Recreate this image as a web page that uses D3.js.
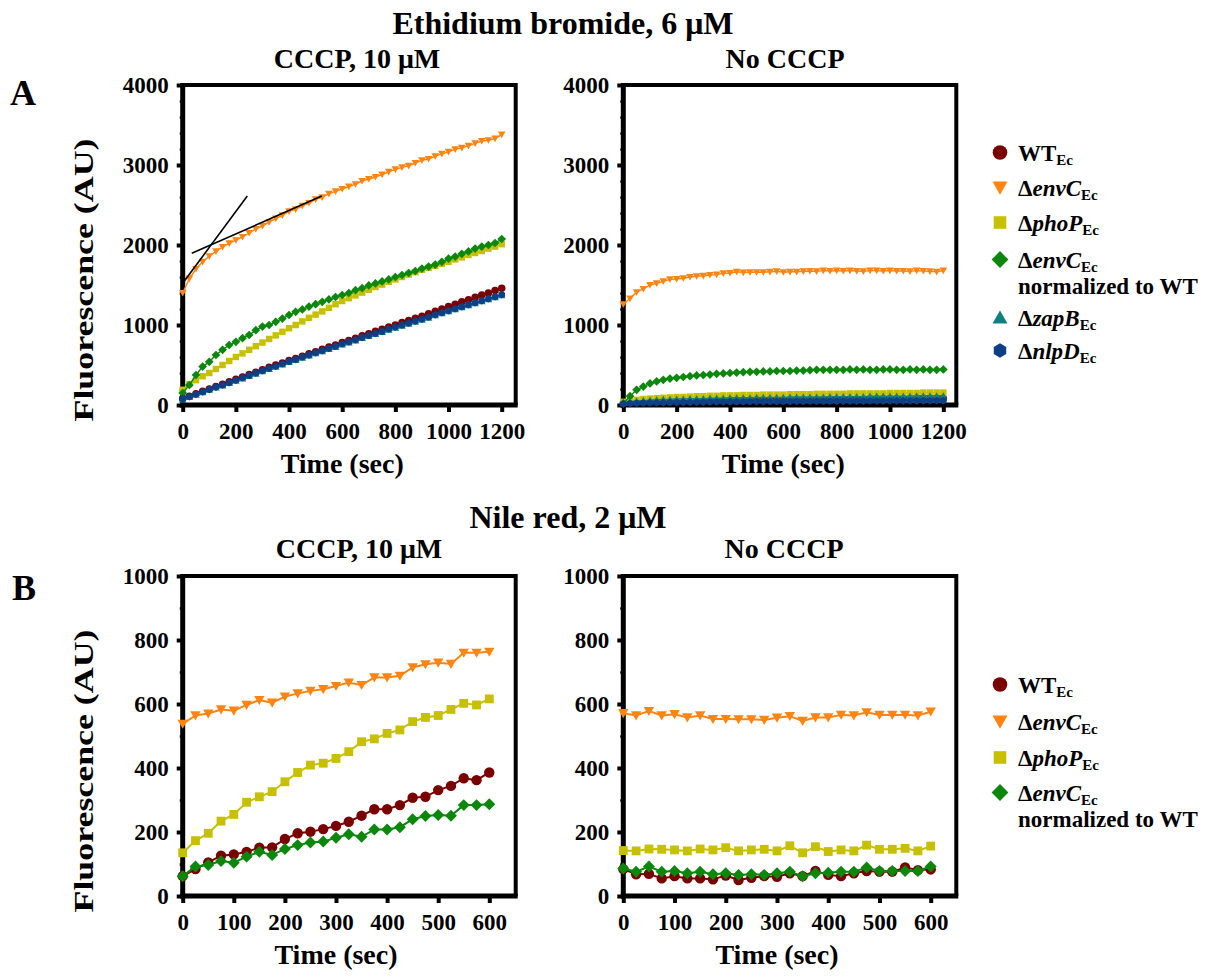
<!DOCTYPE html>
<html>
<head>
<meta charset="utf-8">
<script src="https://cdn.jsdelivr.net/npm/d3@7"></script>
<style>
body { margin: 0; background: #fff; }
svg text { font-family: "Liberation Serif", "Tinos", "Times New Roman", "DejaVu Serif", serif !important; font-weight: bold; fill: #000; }
</style>
</head>
<body>
<svg id="fig" width="1208" height="977"></svg>
<script>
// ---- data ----
let timeA = [0,25,50,75,100,125,150,175,200,225,250,275,300,325,350,375,400,425,450,475,500,525,550,575,600,
  625,650,675,700,725,750,775,800,825,850,875,900,925,950,975,1000,1025,1050,1075,1100,1125,1150,1175,1200]
let timeB = [0,25,50,75,100,125,150,175,200,225,250,275,300,325,350,375,400,425,450,475,500,525,550,575,600]

// Ethidium bromide, CCCP
let ebCcccpWT = [80,110,140,170,200,230,260,290,320,350,
  380,410,440,470,500,525,555,580,610,640,
  665,695,725,750,780,805,835,865,890,920,
  945,975,1000,1030,1055,1085,1110,1140,1170,1200,
  1230,1260,1290,1315,1345,1375,1400,1430,1460]
let ebCcccpEnvC = [1400,1580,1700,1790,1860,1920,1975,2020,2060,2100,
  2150,2200,2240,2285,2330,2370,2420,2445,2490,2525,
  2570,2595,2640,2670,2700,2730,2760,2800,2825,2850,
  2880,2915,2945,2970,2990,3025,3060,3075,3110,3140,
  3165,3195,3215,3240,3270,3300,3310,3330,3380]
let ebCcccpPhoP = [190,260,310,360,400,450,500,550,600,645,
  690,735,780,825,870,915,960,1000,1045,1090,
  1130,1170,1215,1260,1300,1335,1370,1405,1440,1475,
  1505,1540,1570,1600,1630,1660,1690,1715,1740,1765,
  1790,1820,1845,1875,1900,1925,1955,1980,2010]
let ebCcccpNorm = [150,250,375,480,540,625,690,750,790,835,
  875,935,980,1000,1040,1080,1125,1165,1195,1230,
  1260,1290,1320,1350,1375,1400,1435,1460,1495,1520,
  1545,1570,1600,1625,1650,1675,1705,1730,1755,1790,
  1830,1855,1890,1920,1955,1980,2000,2025,2075]
let ebCcccpZapB = [70,100,130,160,190,218,245,275,305,333,
  362,392,422,450,478,508,537,562,592,618,
  647,672,702,727,757,782,808,837,862,887,
  912,942,967,992,1017,1042,1067,1092,1122,1147,
  1172,1197,1222,1247,1272,1297,1322,1347,1372]
let ebCcccpNlpD = [80,105,135,165,195,225,250,280,310,340,
  370,400,430,460,485,515,545,570,600,625,
  655,680,710,735,765,790,815,845,870,895,
  920,950,975,1000,1025,1050,1075,1100,1130,1155,
  1180,1205,1230,1255,1280,1305,1330,1355,1380]
// black tangent lines drawn on the CCCP panel
let tangentEarly = [[0,1521],[243,2612]]
let tangentLate = [[34,1896],[523,2612]]

// Ethidium bromide, no CCCP
let ebNoWT = [20,30,35,40,42,45,48,50,52,54,
  55,57,58,60,60,62,62,63,64,65,
  65,66,67,68,68,69,70,70,70,71,
  72,72,73,73,74,74,75,75,75,76,
  76,77,77,78,78,78,79,79,80]
let ebNoEnvC = [1260,1330,1410,1450,1500,1520,1545,1570,1575,1585,
  1600,1610,1615,1625,1630,1645,1650,1665,1655,1660,
  1660,1660,1665,1670,1660,1665,1665,1670,1675,1670,
  1680,1675,1680,1675,1680,1675,1670,1680,1680,1675,
  1680,1675,1675,1670,1680,1675,1670,1665,1680]
let ebNoPhoP = [40,55,65,75,80,85,90,95,100,100,
  105,110,110,115,115,120,120,120,125,125,
  125,130,130,130,130,135,135,135,135,140,
  140,140,140,140,145,145,145,145,145,145,
  150,150,150,150,150,155,155,155,155]
let ebNoNorm = [20,110,190,230,270,295,315,330,340,350,
  360,370,375,380,390,395,400,405,410,415,
  415,420,420,425,425,425,430,430,435,440,
  440,440,440,440,445,440,445,440,440,445,
  445,440,440,445,440,445,440,440,445]
let ebNoZapB = [30,40,50,55,60,65,70,70,75,75,
  80,80,80,85,85,85,90,90,90,90,
  95,95,95,95,95,100,100,100,100,100,
  100,105,105,105,105,105,105,110,110,110,
  110,110,110,110,115,115,115,115,115]
let ebNoNlpD = [15,20,22,25,27,28,30,31,32,33,
  34,35,36,37,38,38,39,40,40,41,
  42,42,43,43,44,44,45,45,46,46,
  47,47,48,48,48,49,49,50,50,50,
  51,51,52,52,52,53,53,54,54]

// Nile red, CCCP
let nrCcccpWT = [62,84,105,126,130,138,151,152,178,196,201,209,219,232,251,271,271,284,307,310,331,344,368,362,386]
let nrCcccpEnvC = [538,564,570,583,579,597,612,604,623,633,641,646,656,667,659,683,683,688,714,724,729,725,760,760,763]
let nrCcccpPhoP = [135,173,196,234,255,293,310,326,357,386,409,415,430,451,482,491,508,519,545,558,564,583,602,597,616]
let nrCcccpNorm = [62,92,97,109,104,123,138,128,147,159,167,170,182,193,185,208,208,215,240,250,253,251,284,284,287]

// Nile red, no CCCP
let nrNoWT = [84,68,69,55,62,55,55,52,64,50,57,62,60,71,62,78,66,62,71,78,76,76,89,81,83]
let nrNoEnvC = [571,564,578,564,568,558,564,553,553,552,552,550,557,562,547,558,558,566,564,574,566,566,566,564,576]
let nrNoPhoP = [142,141,147,146,144,141,147,144,151,141,144,146,141,157,135,154,139,144,141,159,146,146,149,141,156]
let nrNoNorm = [86,76,92,76,78,71,76,68,71,66,68,66,71,76,62,71,73,76,76,89,78,78,78,78,92]

let ticksA = [0,1000,2000,3000,4000]
let minorA = [200,400,600,800,1200,1400,1600,1800,2200,2400,2600,2800,3200,3400,3600,3800]
let ticksB = [0,200,400,600,800,1000]
let minorB = [100,300,500,700,900]
let timeTicksA = [0,200,400,600,800,1000,1200]
let timeTicksB = [0,100,200,300,400,500,600]

let strains = [
  {key: 'WT', gene: '', mark: 'circle', color: '#7a0000'},
  {key: 'envC', gene: 'envC', mark: 'down', color: '#ff8412'},
  {key: 'phoP', gene: 'phoP', mark: 'square', color: '#c6c000'},
  {key: 'norm', gene: 'envC', mark: 'diamond', color: '#0b870b'},
  {key: 'zapB', gene: 'zapB', mark: 'up', color: '#0f7f80'},
  {key: 'nlpD', gene: 'nlpD', mark: 'hex', color: '#0c3f86'}
]
let color = {}, mark = {}
strains.forEach(s => { color[s.key] = s.color; mark[s.key] = s.mark })

const FONT = '"Liberation Serif", "Tinos", "Times New Roman", "DejaVu Serif", serif'
const svg = d3.select('#fig')
svg.append('rect').attr('width', 1208).attr('height', 977).attr('fill', '#fff')

function shape(kind, r) {
  let p
  if (kind == 'circle') return d3.symbol(d3.symbolCircle, Math.PI * r * r)()
  if (kind == 'down') p = [[-r, -r * 0.8], [r, -r * 0.8], [0, r * 0.95]]
  if (kind == 'up') p = [[-r, r * 0.8], [r, r * 0.8], [0, -r * 0.95]]
  if (kind == 'square') { let s = r * 0.85; p = [[-s, -s], [s, -s], [s, s], [-s, s]] }
  if (kind == 'diamond') p = [[0, -r * 1.15], [r * 1.15, 0], [0, r * 1.15], [-r * 1.15, 0]]
  if (kind == 'hex') p = [0, 1, 2, 3, 4, 5].map(i => [r * Math.cos(Math.PI / 2 + i * Math.PI / 3), r * Math.sin(Math.PI / 2 + i * Math.PI / 3)])
  return 'M' + p.map(q => q.join(',')).join('L') + 'Z'
}

function panel(o) {
  let x = d3.scaleLinear().domain([0, o.xmax]).range([o.left, o.left + o.xw])
  let y = d3.scaleLinear().domain([0, o.ymax]).range([o.bottom, o.bottom - 320])
  let g = svg.append('g')
  let right = o.left + 333, top = y(o.ymax), bot = y(0), x0 = x(0)

  // frame
  g.append('line').attr('x1', x0).attr('x2', right).attr('y1', top).attr('y2', top).attr('stroke', '#000').attr('stroke-width', 4)
  g.append('line').attr('x1', right).attr('x2', right).attr('y1', top - 2).attr('y2', bot).attr('stroke', '#000').attr('stroke-width', 4)

  // y axis
  let ya = g.append('g').attr('transform', `translate(${x0},0)`)
    .call(d3.axisLeft(y).tickValues(o.yticks).tickFormat(d3.format('d')).tickSize(6).tickPadding(8).tickSizeOuter(0))
  ya.select('.domain').remove()
  ya.selectAll('line').attr('stroke-width', 4)
  ya.selectAll('text').attr('font-family', FONT).attr('font-weight', 'bold').style('font-size', '23px')
  let ym = g.append('g').attr('transform', `translate(${x0},0)`)
    .call(d3.axisLeft(y).tickValues(o.yminor).tickSize(3).tickFormat(''))
  ym.select('.domain').remove()
  ym.selectAll('line').attr('stroke-width', 2.5)

  // x axis
  let xa = g.append('g').attr('transform', `translate(0,${bot})`)
    .call(d3.axisBottom(x).tickValues(o.xticks).tickFormat(d3.format('d')).tickSize(7).tickPadding(11).tickSizeOuter(0))
  xa.select('.domain').remove()
  xa.selectAll('line').attr('stroke-width', 4)
  xa.selectAll('text').attr('font-family', FONT).attr('font-weight', 'bold').style('font-size', '23px')

  g.append('line').attr('x1', x0).attr('x2', x0).attr('y1', top - 2).attr('y2', bot + 2.5).attr('stroke', '#000').attr('stroke-width', 5)
  g.append('line').attr('x1', x0 - 2.5).attr('x2', right + 2).attr('y1', bot).attr('y2', bot).attr('stroke', '#000').attr('stroke-width', 5)

  // series
  o.series.forEach(s => {
    let pts = o.t.map((t, i) => [t, s.v[i]])
    g.append('path')
      .attr('d', d3.line().x(d => x(d[0])).y(d => y(d[1]))(pts))
      .attr('fill', 'none').attr('stroke', color[s.k]).attr('stroke-width', o.lw)
    g.selectAll(null).data(pts).enter().append('path')
      .attr('transform', d => `translate(${x(d[0])},${y(d[1])})`)
      .attr('d', shape(mark[s.k], o.r))
      .attr('fill', color[s.k])
  })

  ;(o.extra || []).forEach(l => {
    g.append('path').attr('d', d3.line().x(d => x(d[0])).y(d => y(d[1]))(l))
      .attr('fill', 'none').attr('stroke', '#000').attr('stroke-width', 1.6)
  })

  g.append('text').attr('x', (x0 + x(o.xmax)) / 2).attr('y', bot + 68)
    .attr('text-anchor', 'middle').style('font-size', '28px').text('Time (sec)')
  if (o.ylabel) {
    g.append('text').attr('transform', `translate(93,${bot - 125}) rotate(-90)`)
      .attr('text-anchor', 'middle').attr('textLength', 283).attr('lengthAdjust', 'spacingAndGlyphs')
      .style('font-size', '28px').text('Fluorescence (AU)')
  }
}

panel({left: 182.7, bottom: 405, xw: 319, xmax: 1200, ymax: 4000, xticks: timeTicksA, yticks: ticksA, yminor: minorA,
  t: timeA, r: 3.8, lw: 1.4, ylabel: true, extra: [tangentEarly, tangentLate],
  series: [{k: 'WT', v: ebCcccpWT}, {k: 'envC', v: ebCcccpEnvC}, {k: 'phoP', v: ebCcccpPhoP},
    {k: 'norm', v: ebCcccpNorm}, {k: 'zapB', v: ebCcccpZapB}, {k: 'nlpD', v: ebCcccpNlpD}]})
panel({left: 623.3, bottom: 405, xw: 320, xmax: 1200, ymax: 4000, xticks: timeTicksA, yticks: ticksA, yminor: minorA,
  t: timeA, r: 3.8, lw: 1.4,
  series: [{k: 'WT', v: ebNoWT}, {k: 'envC', v: ebNoEnvC}, {k: 'phoP', v: ebNoPhoP},
    {k: 'norm', v: ebNoNorm}, {k: 'zapB', v: ebNoZapB}, {k: 'nlpD', v: ebNoNlpD}]})
panel({left: 182.7, bottom: 896, xw: 306.6, xmax: 600, ymax: 1000, xticks: timeTicksB, yticks: ticksB, yminor: minorB,
  t: timeB, r: 5.2, lw: 2, ylabel: true,
  series: [{k: 'WT', v: nrCcccpWT}, {k: 'envC', v: nrCcccpEnvC}, {k: 'phoP', v: nrCcccpPhoP}, {k: 'norm', v: nrCcccpNorm}]})
panel({left: 623.3, bottom: 896, xw: 307.4, xmax: 600, ymax: 1000, xticks: timeTicksB, yticks: ticksB, yminor: minorB,
  t: timeB, r: 5.2, lw: 2,
  series: [{k: 'WT', v: nrNoWT}, {k: 'envC', v: nrNoEnvC}, {k: 'phoP', v: nrNoPhoP}, {k: 'norm', v: nrNoNorm}]})

// titles
function label(x, y, size, str, anchor) {
  svg.append('text').attr('x', x).attr('y', y).attr('text-anchor', anchor || 'middle')
    .style('font-size', size + 'px').text(str)
}
label(563, 34, 32, 'Ethidium bromide, 6 \u03bcM')
label(357, 68, 28, 'CCCP, 10 \u03bcM')
label(785, 68, 28, 'No CCCP')
label(10, 105, 36, 'A', 'start')
label(568, 528, 32, 'Nile red, 2 \u03bcM')
label(359, 558, 28, 'CCCP, 10 \u03bcM')
label(784, 558, 28, 'No CCCP')
label(12, 600, 36, 'B', 'start')

// legends
function legend(keys, baselines) {
  let row = 0
  keys.forEach(k => {
    let s = strains.find(d => d.key == k)
    let b = baselines[row]
    let big = {circle: 7.3, down: 7.5, up: 7.5, square: 7.4, diamond: 7.3, hex: 7.2}[s.mark]
    svg.append('path').attr('transform', `translate(1000,${b - 8.5})`).attr('d', shape(s.mark, big)).attr('fill', s.color)
    let t = svg.append('text').attr('x', 1018).attr('y', b).style('font-size', '23px')
    if (k == 'WT') t.append('tspan').text('WT')
    else {
      t.append('tspan').text('\u0394')
      t.append('tspan').style('font-style', 'italic').text(s.gene)
    }
    t.append('tspan').attr('dy', 4).style('font-size', '15px').text('Ec')
    row++
    if (k == 'norm') {
      svg.append('text').attr('x', 1018).attr('y', baselines[row]).style('font-size', '23px').text('normalized to WT')
      row++
    }
  })
}
legend(['WT', 'envC', 'phoP', 'norm', 'zapB', 'nlpD'], [161, 196, 231, 268, 294, 326, 359])
legend(['WT', 'envC', 'phoP', 'norm'], [693, 730, 766, 801, 827])
</script>
</body>
</html>
